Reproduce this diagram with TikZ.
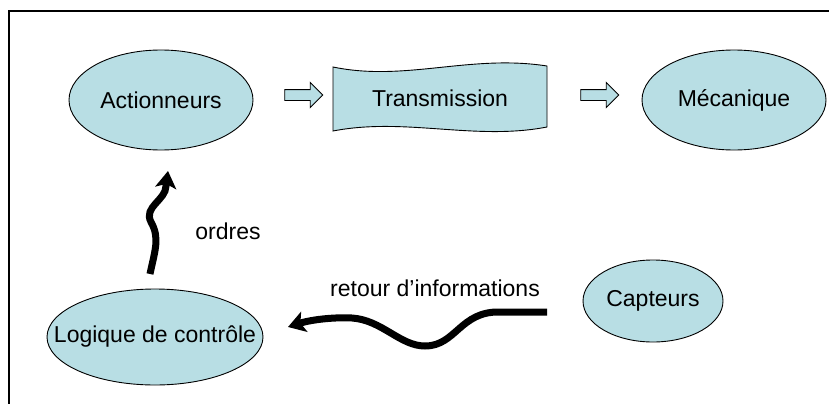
\documentclass[tikz,border=0pt]{standalone}
\usepackage{fontspec}
\setmainfont{Liberation Sans}
\usetikzlibrary{shapes.geometric,shapes.arrows,arrows.meta}

\definecolor{boxfill}{RGB}{184,222,228}

\tikzset{
  ellbox/.style={ellipse, draw=black, line width=0.9pt, fill=boxfill, inner sep=0pt},
  txt/.style={font=\fontsize{23}{26}\selectfont, inner sep=0pt},
  hollowarrow/.style={single arrow, draw=black, line width=0.9pt, fill=boxfill,
    minimum height=38pt, minimum width=24pt, inner sep=5pt,
    single arrow head extend=7pt, single arrow tip angle=90},
  wavyarrow/.style={line width=7pt, -{Stealth[length=17pt,width=21pt,inset=4pt]}},
  frameline/.style={line width=2.6pt, black}
}

\begin{document}
\begin{tikzpicture}[x=1pt,y=-1pt]
  \useasboundingbox (0,0) rectangle (829,404);

  % open frame: top and left edges only
  \draw[frameline] (829,11) -- (9,11) -- (9,404);

  % blocks of the chain
  \node[ellbox, minimum width=184pt, minimum height=100pt] (act) at (161,100) {};
  \node[txt] (act-t) at (act) {Actionneurs};

  \draw[line width=0.9pt, fill=boxfill]
    (333,67) .. controls (405,82) and (470,54) .. (547,66)
    -- (547,127) .. controls (475,141) and (405,117) .. (333,131) -- cycle;
  \node[txt] (trans) at (440,98) {Transmission};

  \node[ellbox, minimum width=184pt, minimum height=100pt] (meca) at (734,100) {};
  \node[txt] (meca-t) at (meca) {Mécanique};

  \node[ellbox, minimum width=140pt, minimum height=82pt] (capt) at (653,301) {};
  \node[txt] (capt-t) at (capt) {Capteurs};

  \node[ellbox, minimum width=216pt, minimum height=96pt] (logic) at (155,337) {};
  \node[txt] (logic-t) at (logic) {Logique de contrôle};

  % hollow arrows along the chain
  \node[hollowarrow] (a1) at (301,95) {};
  \node[hollowarrow] (a2) at (597,95) {};

  % control loop
  \coordinate (ordtail) at (150,274);
  \coordinate (ordtip) at (168,171);
  \draw[wavyarrow] (ordtail) .. controls (155,250) and (160,238) .. (151,222)
    .. controls (143,207) and (166,200) .. (166,186) -- (ordtip);
  \node[txt] (ordres) at (228,231) {ordres};

  \coordinate (rettail) at (547,312);
  \coordinate (rettip) at (288,327);
  \draw[wavyarrow] (rettail) -- (500,312)
    .. controls (460,311) and (456,346) .. (425,346)
    .. controls (400,346) and (382,320) .. (352,318)
    .. controls (332,317) and (310,320) .. (rettip);
  \node[txt] (retour) at (435,288) {retour d’informations};
\end{tikzpicture}
\end{document}
